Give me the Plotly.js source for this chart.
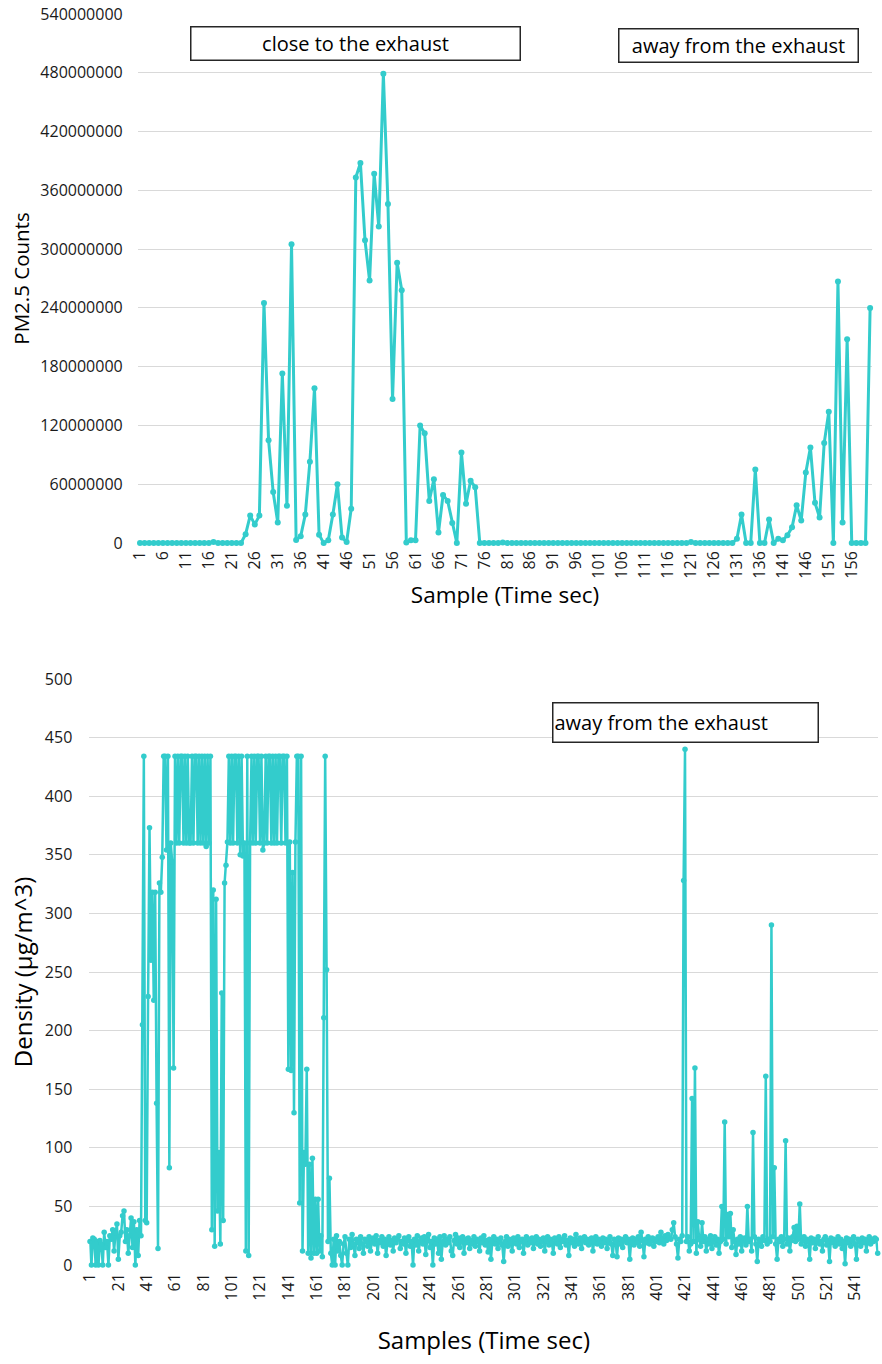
<!DOCTYPE html>
<html>
<head>
<meta charset="utf-8">
<script src="https://cdn.plot.ly/plotly-3.0.1.min.js"></script>
<style>html,body{margin:0;padding:0;background:#fff;}#chart{width:882px;height:1364px;}</style>
</head>
<body>
<div id="chart"></div>
<script>
// ---- Top chart: PM2.5 counts per sample (1..160) ----
const pmCounts = [
  0,0,0,0,0,0,0,0,0,0,
  0,0,0,0,0,0,1000000,0,0,0,
  0,0,0,9000000,28000000,19000000,28000000,245000000,105000000,52000000,
  21000000,173000000,38000000,305000000,3000000,7000000,29000000,83000000,158000000,8500000,
  0,2700000,29000000,60000000,5500000,1000000,35000000,373000000,388000000,309000000,
  268000000,377000000,323000000,479000000,346000000,147000000,286000000,258000000,500000,2700000,
  2700000,120000000,112000000,43000000,65000000,10600000,49000000,43000000,20500000,0,
  92500000,40000000,63500000,57000000,0,0,0,0,0,500000,
  0,0,0,0,0,0,0,0,0,0,
  0,0,0,0,0,0,0,0,0,0,
  0,0,0,0,0,0,0,0,0,0,
  0,0,0,0,0,0,0,0,0,0,
  1000000,0,0,0,0,0,0,0,0,0,
  4400000,29000000,0,0,75000000,0,0,24000000,0,4400000,
  2700000,8000000,16000000,38500000,23000000,72000000,97500000,41000000,26000000,102000000,
  134000000,0,267000000,21000000,208000000,0,0,0,0,240000000
];
const topTickVals = [1,6,11,16,21,26,31,36,41,46,51,56,61,66,71,76,81,86,91,96,101,106,111,116,121,126,131,136,141,146,151,156];
const topYTicks = [0,60000000,120000000,180000000,240000000,300000000,360000000,420000000,480000000,540000000];

// ---- Bottom chart: density per sample (1..557) ----
const densityStart = [20,0,23,22,0,20,0,21,18,0,28,15,20,0,25,22,30,12,27,35,5,25,28,42,46,20,30,10,25,40,15,37,0,30,8,38,25];
const densityRiseA = [205,434,38,36,229,373,260,318,226,318,138,14,326,318,348,434,434,354,434,83,360,344,168];
const densityHighA = [434,360,434,360,434,434,360,434,360,434,360,360,434,360,434,434,360,434,360,434,360,434,357,434,360,434];
const densityDipA = [30,320,16,312,46,96,18,232,38,326,341,361];
const densityHighB = [434,360,434,360,434,434,360,434,350,434,349,360];
const densityDipB = [12,434,8];
const densityHighC = [360,434,360,434,360,434,434,360,434,354,360,434,360,434,434,360,434,360,434,360,434,434,360,434];
const densityFall = [434,360,434,167,361,166,335,130,361,434,434,53,434,12,96,86,167,10,86,6,91,10,56,10,56,12,25,7,211,434,252,20,74,10];
const densityLow = [
  0,22,0,25,12,20,8,0,18,24,
  10,0,22,15,26,18,8,22,20,14,
  24,18,10,22,20,16,24,12,20,23,
  18,25,10,21,19,24,16,22,8,20,
  24,17,21,12,23,19,22,25,14,20,
  18,23,10,21,24,16,20,0,22,17,
  25,12,20,23,18,24,9,21,26,15,
  20,0,23,18,22,10,24,5,20,25,
  17,22,19,24,12,8,21,26,18,23,
  15,20,24,10,22,19,23,14,21,18,
  24,16,22,20,12,23,19,25,17,21,
  11,22,5,20,24,18,22,14,21,23,
  17,3,20,24,16,22,19,12,23,20,
  18,24,15,21,22,10,20,24,17,22,
  19,23,14,21,24,18,22,16,20,23,
  12,21,24,17,22,19,10,23,20,18,
  24,15,22,20,25,17,21,8,23,19,
  22,16,26,20,18,23,14,21,24,19,
  22,17,20,23,12,21,24,18,22,20,
  16,23,19,22,14,21,24,18,8,22,
  20,7,23,18,22,15,21,24,19,22,
  5,20,23,17,22,19,24,16,28,21,
  7,22,19,24,18,21,23,16,22,20,
  24,19,28,22,18,25,21,26,23
];
const densityAway = [
  22,30,36,24,18,6,22,20,25,328,
  440,20,24,12,18,142,20,168,10,37,
  22,16,36,20,24,12,22,18,25,14,
  21,24,17,22,10,20,50,22,122,18,
  43,24,44,15,30,20,9,22,18,24,
  12,21,23,17,50,20,22,12,113,24,
  18,3,22,20,16,24,21,161,18,22,
  20,290,24,83,18,5,22,20,24,16,
  22,106,18,23,12,21,24,32,20,33,
  22,52,18,21,24,16,22,20,5,23,
  19,22,14,21,24,18,20,12,22,24,
  17,21,3,23,19,22,16,20,24,18,
  22,14,20,1,23,19,22,16,21,24,
  18,5,22,20,16,23,19,22,12,21,
  24,18,22,20,23,22,10
];
const bottomTickVals = [1,21,41,61,81,101,121,141,161,181,201,221,241,261,281,301,321,341,361,381,401,421,441,461,481,501,521,541];
const bottomYTicks = [0,50,100,150,200,250,300,350,400,450,500];

const density = [].concat(densityStart, densityRiseA, densityHighA, densityDipA, densityHighB,
  densityDipB, densityHighC, densityFall, densityLow, densityAway);

const topX = pmCounts.map((_, i) => i + 1);
const botX = density.map((_, i) => i + 1);

const teal = '#33CCCC';
const FONT = '"Open Sans", "Noto Sans", sans-serif';
const H = 1364, W = 882;
const py = v => 1 - v / H;
const px = v => v / W;

const traces = [
  {x: topX, y: pmCounts, type: 'scatter', mode: 'lines+markers', xaxis: 'x', yaxis: 'y',
   line: {color: teal, width: 3}, marker: {color: teal, size: 6}, cliponaxis: false, showlegend: false},
  {x: botX, y: density, type: 'scatter', mode: 'lines+markers', xaxis: 'x2', yaxis: 'y2',
   line: {color: teal, width: 2.5}, marker: {color: teal, size: 5.5}, cliponaxis: false, showlegend: false}
];

const tickFont = {family: FONT, size: 16, color: '#1a1a1a'};
const boxFont = {family: FONT, size: 20, color: '#000'};

const layout = {
  width: W, height: H,
  margin: {l: 0, r: 0, t: 0, b: 0},
  paper_bgcolor: '#fff', plot_bgcolor: '#fff',
  showlegend: false,
  xaxis: {
    domain: [px(137.7), px(872.4)], anchor: 'y', range: [0.5, 160.5],
    tickmode: 'array', tickvals: topTickVals, ticktext: topTickVals.map(String),
    tickangle: -90, tickfont: tickFont, showgrid: false, zeroline: false, showline: false, ticks: '',
    ticklabelstandoff: 4,
    title: {text: 'Sample (Time sec)', font: {family: FONT, size: 22.5, color: '#000'}, standoff: 4}
  },
  yaxis: {
    domain: [py(543), py(14)], anchor: 'x', range: [0, 540000000],
    tickmode: 'array', tickvals: topYTicks, ticktext: topYTicks.map(String),
    tickfont: tickFont, showgrid: true, gridcolor: '#d9d9d9', gridwidth: 1,
    zeroline: false, showline: false, ticks: '', ticklabelstandoff: 14,
    title: {text: 'PM2.5 Counts', font: {family: FONT, size: 20.5, color: '#000'}, standoff: 5}
  },
  xaxis2: {
    domain: [px(89.3), px(878.4)], anchor: 'y2', range: [0.5, 557.5],
    tickmode: 'array', tickvals: bottomTickVals, ticktext: bottomTickVals.map(String),
    tickangle: -90, tickfont: tickFont, showgrid: false, zeroline: false, showline: false, ticks: '',
    ticklabelstandoff: 4,
    title: {text: 'Samples (Time sec)', font: {family: FONT, size: 24, color: '#000'}, standoff: 32}
  },
  yaxis2: {
    domain: [py(1265), py(679)], anchor: 'x2', range: [0, 500],
    tickmode: 'array', tickvals: bottomYTicks, ticktext: bottomYTicks.map(String),
    tickfont: tickFont, showgrid: true, gridcolor: '#d9d9d9', gridwidth: 1,
    zeroline: false, showline: false, ticks: '', ticklabelstandoff: 16,
    title: {text: 'Density (µg/m^3)', font: {family: FONT, size: 24, color: '#000'}, standoff: 5}
  },
  annotations: [
    {text: 'close to the exhaust', xref: 'paper', yref: 'paper', x: px(355), y: py(43.5),
     xanchor: 'center', yanchor: 'middle', showarrow: false, width: 326, height: 30,
     align: 'center', bordercolor: '#262626', borderwidth: 1.5, borderpad: 1,
     bgcolor: '#fff', font: boxFont},
    {text: 'away from the exhaust', xref: 'paper', yref: 'paper', x: px(738), y: py(45.5),
     xanchor: 'center', yanchor: 'middle', showarrow: false, width: 236, height: 30,
     align: 'center', bordercolor: '#262626', borderwidth: 1.5, borderpad: 1,
     bgcolor: '#fff', font: boxFont},
    {text: 'away from the exhaust', xref: 'paper', yref: 'paper', x: px(685), y: py(722),
     xanchor: 'center', yanchor: 'middle', showarrow: false, width: 262, height: 36,
     align: 'left', bordercolor: '#262626', borderwidth: 1.5, borderpad: 1,
     bgcolor: '#fff', font: boxFont}
  ]
};

Plotly.newPlot('chart', traces, layout, {staticPlot: true, displayModeBar: false});
</script>
</body>
</html>
